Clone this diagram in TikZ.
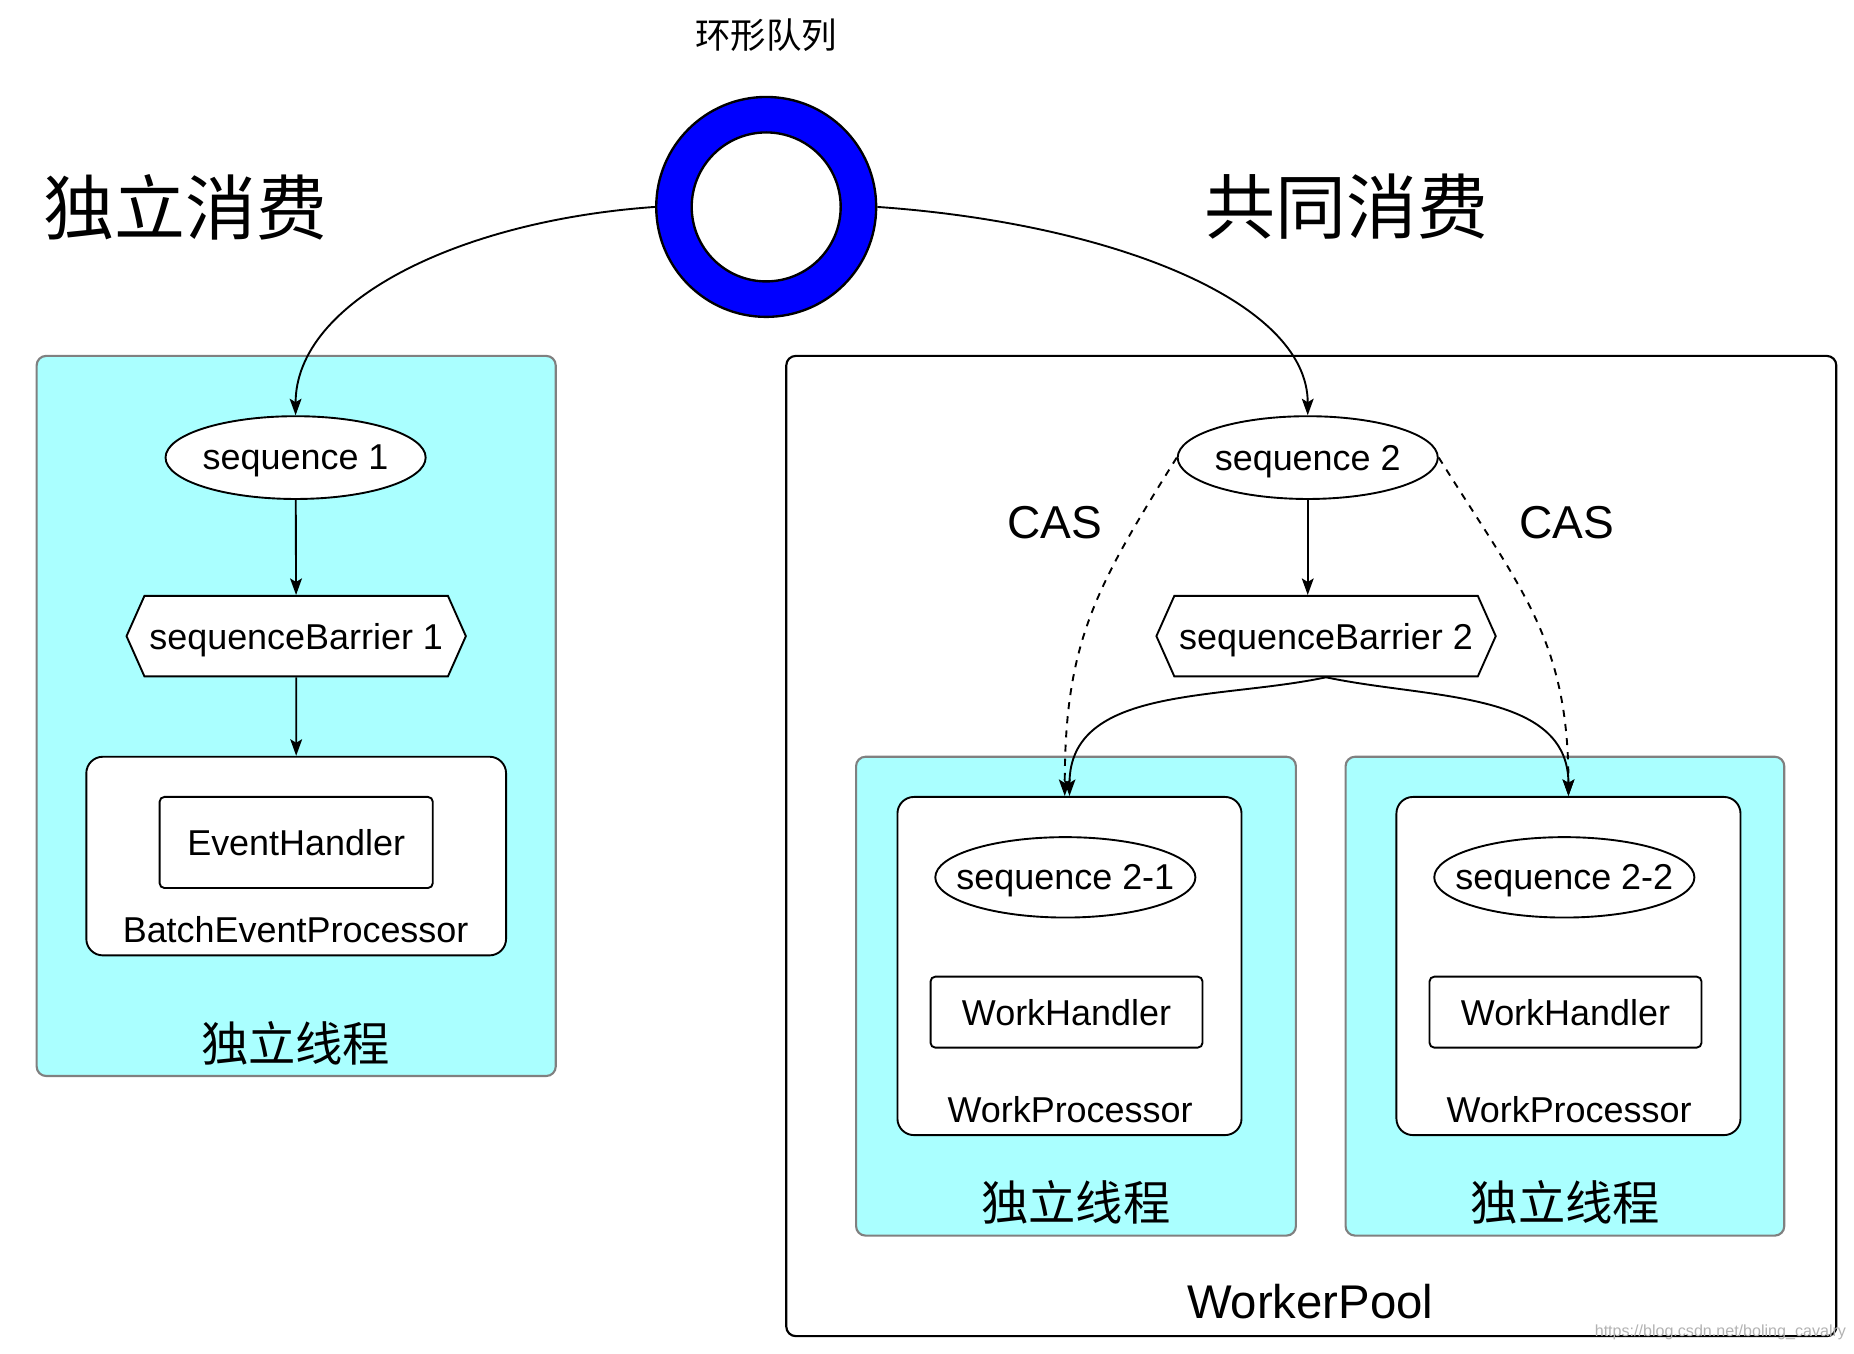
\documentclass[tikz,border=0pt]{standalone}
\usepackage{fontspec}
\setmainfont{Liberation Sans}
\newfontfamily\cjk{Noto Sans CJK SC}
\usetikzlibrary{shapes.geometric, shapes.symbols, arrows.meta}
\definecolor{threadcyan}{RGB}{170,255,255}

\begin{document}
\begin{tikzpicture}[x=0.5pt,y=-0.5pt,line width=0.8pt,
    >={Stealth[length=7pt,width=5pt,inset=1.5pt]},
    txt/.style={font=\fontsize{15.2}{18}\selectfont,text depth=0pt},
    seqnode/.style={ellipse,draw,fill=white,txt,minimum width=110pt,minimum height=35pt,
      inner xsep=-10pt,inner ysep=0pt},
    barrier/.style={signal,signal to=east and west,signal pointer angle=132,draw,fill=white,txt,
      minimum width=143.5pt,minimum height=34pt,inner sep=0pt},
    threadbox/.style={rectangle,rounded corners=4pt,draw=black!50,fill=threadcyan,line width=0.9pt},
    procbox/.style={rectangle,rounded corners=7pt,draw,fill=white},
    handler/.style={rectangle,rounded corners=2pt,draw,fill=white,txt},
    big/.style={font=\fontsize{30}{36}\selectfont\cjk},
    thread/.style={font=\fontsize{20}{24}\selectfont\cjk}]
  \useasboundingbox (0,0) rectangle (1568,1145);

  % ring buffer
  \node (title) at (648,30) {\fontsize{15}{18}\selectfont\cjk 环形队列};
  \node[circle,draw,fill=blue,line width=1pt,minimum size=93pt,inner sep=0pt] (ring) at (648,175) {};
  \node[circle,draw,fill=white,line width=1pt,minimum size=63pt,inner sep=0pt] (hole) at (ring) {};
  \node[big] (t_ind) at (157,175) {独立消费};
  \node[big] (t_co) at (1139,175) {共同消费};

  % left side
  \node[threadbox,minimum width=219.5pt,minimum height=304.5pt] (thr_1) at (250.5,605.5) {};
  \node[thread] (thr_1_l) at (250,882) {独立线程};
  \node[seqnode] (seq_1) at (250,387) {sequence 1};
  \node[barrier] (bar_1) at (250.5,538) {sequenceBarrier 1};
  \node[procbox,minimum width=177.5pt,minimum height=84pt] (bep) at (250.5,724) {};
  \node[handler,minimum width=115.5pt,minimum height=38.5pt] (eh) at (250.5,712.5) {EventHandler};
  \node[txt] (bep_l) at (250,786) {BatchEventProcessor};

  % right side
  \node[rectangle,rounded corners=4pt,draw,line width=0.9pt,minimum width=444pt,minimum height=414.5pt] (pool) at (1109,715.5) {};
  \node[font=\fontsize{20}{24}\selectfont] (pool_l) at (1108,1101) {WorkerPool};
  \node[seqnode] (seq_2) at (1106,387) {sequence 2};
  \node[barrier] (bar_2) at (1121.5,538) {sequenceBarrier 2};
  \node[font=\fontsize{19.5}{23}\selectfont] (cas_1) at (892,442) {CAS};
  \node[font=\fontsize{19.5}{23}\selectfont] (cas_2) at (1325,442) {CAS};

  \node[threadbox,minimum width=186pt,minimum height=202.5pt] (thr_21) at (910,842.5) {};
  \node[threadbox,minimum width=185.5pt,minimum height=202.5pt] (thr_22) at (1323.5,842.5) {};
  \node[thread] (thr_21_l) at (910,1017) {独立线程};
  \node[thread] (thr_22_l) at (1324,1017) {独立线程};

  \node[procbox,minimum width=145.5pt,minimum height=143pt] (wp_1) at (904.5,817) {};
  \node[procbox,minimum width=145.5pt,minimum height=143pt] (wp_2) at (1326.5,817) {};
  \node[seqnode,minimum height=34pt] (seq_21) at (901,742) {sequence 2-1};
  \node[seqnode,minimum height=34pt] (seq_22) at (1323,742) {sequence 2-2};
  \node[handler,minimum width=115pt,minimum height=30pt] (wh_1) at (902,856) {WorkHandler};
  \node[handler,minimum width=115pt,minimum height=30pt] (wh_2) at (1324,856) {WorkHandler};
  \node[txt] (wp_1_l) at (905,938) {WorkProcessor};
  \node[txt] (wp_2_l) at (1327,938) {WorkProcessor};

  \node[text=black!30,font=\fontsize{6.8}{8}\selectfont] (mark) at (1455,1127) {https://blog.csdn.net/boling\_cavalry};

  \path[->]
  (ring.west) edge [out=184,in=90,out looseness=1.22,in looseness=0.7] (seq_1.north)
  (seq_1) edge (bar_1)
  (bar_1) edge (bep)
  (ring.east) edge [out=-4,in=90,out looseness=1.26,in looseness=0.61] (seq_2.north)
  (seq_2.south) edge (seq_2.south |- bar_2.north)
  (bar_2.south) edge [out=192,in=90] (wp_1.north)
             edge [out=-12,in=90] (wp_2.north)
  (seq_2.west) edge [dashed,out=238,in=90,looseness=1.1] ([xshift=-2pt]wp_1.north)
  (seq_2.east) edge [dashed,out=-58,in=90,looseness=1.1] (wp_2.north);
\end{tikzpicture}
\end{document}
